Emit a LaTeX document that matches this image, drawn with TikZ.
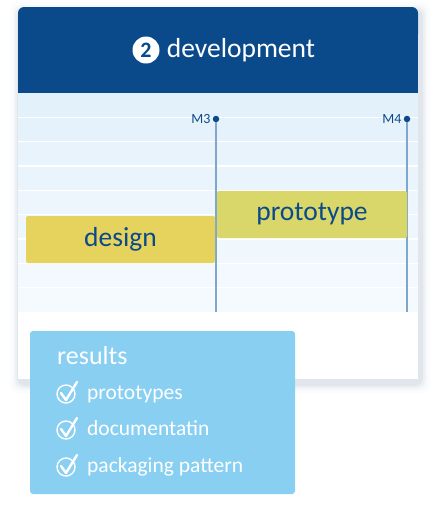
\documentclass[tikz,border=0pt]{standalone}
\usepackage{fontspec}
\setmainfont{Carlito}
\usepackage{xcolor}
\usetikzlibrary{backgrounds,positioning}
\definecolor{headblue}{HTML}{0B4A8A}
\definecolor{stripetop}{HTML}{E3F1FB}
\definecolor{stripebot}{HTML}{F5FAFE}
\definecolor{lineblue}{HTML}{7FA6CB}
\definecolor{designyellow}{HTML}{E5D35E}
\definecolor{protoyellow}{HTML}{D9D66A}
\definecolor{resultblue}{HTML}{88CFF1}
\tikzstyle{bar} = [rectangle, rounded corners=2pt, minimum height=47pt, inner sep=0pt, text=headblue, font=\fontsize{27.5}{30}\selectfont]
\tikzstyle{milestone} = [circle, fill=headblue, inner sep=0pt, minimum size=6.5pt]

\begin{document}
\begin{tikzpicture}[x=1pt, y=-1pt,
		mlabel/.style={
			text=headblue,
			inner sep=0pt,
			font=\fontsize{14}{16}\selectfont},
		vline/.style={
			draw=lineblue,
			line width=1.5pt},
		item/.style={
			anchor=base west,
			text=white,
			inner sep=0pt,
			font=\fontsize{21.5}{24}\selectfont}]
		\useasboundingbox (0,0) rectangle (435,520);

		% card with shadow
		\foreach \s/\o in {9/0.015, 6/0.025, 4/0.035, 2/0.05}
			\fill [headblue!70!black, opacity=\o, rounded corners=8pt] (18-\s+1, 7-\s+4) rectangle (418+\s+3, 379+\s+5);
		\fill [white, rounded corners=6pt] (18,7) rectangle (418,40);
		\fill [white] (18,30) rectangle (418,379);
		\fill [headblue, rounded corners=6pt] (18,7) rectangle (418,40);
		\fill [headblue] (18,30) rectangle (418,93);

		% title
		\node (num) [circle, fill=white, text=headblue, inner sep=0pt, minimum size=27pt, font=\fontsize{22}{24}\selectfont\bfseries] at (146,50) {2};
		\node (title) [right=7pt of num, text=white, inner sep=0pt, font=\fontsize{27.5}{30}\selectfont] {development};

		% grid rows
		\foreach \i in {0,...,8} {
			\pgfmathsetmacro\mix{100-\i*12.5}
			\fill [stripetop!\mix!stripebot] (18,93+\i*24.33) rectangle (418,93+\i*24.33+24.33);
		}
		\foreach \i in {1,...,8}
			\draw [white, line width=1.5pt] (18,93+\i*24.33) -- (418,93+\i*24.33);

		% milestones
		\node (m3) [milestone] at (216,119) {};
		\node (m4) [milestone] at (407,119) {};
		\coordinate (m3end) at (216,312);
		\coordinate (m4end) at (407,312);
		\node [left=2pt of m3, mlabel] {M3};
		\node [left=2pt of m4, mlabel] {M4};
		\draw [vline] (m3.south) -- (m3end);
		\draw [vline] (m4.south) -- (m4end);

		% phases
		\node (design) [bar, fill=designyellow, minimum width=189pt] at (120.5,239.5) {design};
		\node (proto) [bar, fill=protoyellow, minimum width=190pt] at (312,214.5) {prototype};

		% results
		\fill [resultblue, rounded corners=3pt] (30,331) rectangle (295,494);
		\node (res) [anchor=base west, text=white, inner sep=0pt, font=\fontsize{26}{28}\selectfont] at (57,364) {results};
		\foreach \y/\txt in {399/prototypes, 435/documentatin, 472/packaging pattern} {
			\draw [white, line width=1.4pt] (66,\y-5) circle (9pt);
			\draw [white, line width=2.4pt, line cap=round, line join=round] (61,\y-6) -- (66,\y+1) -- (77,\y-17);
			\node [item] at (87,\y) {\txt};
		}

	\end{tikzpicture}
\end{document}
